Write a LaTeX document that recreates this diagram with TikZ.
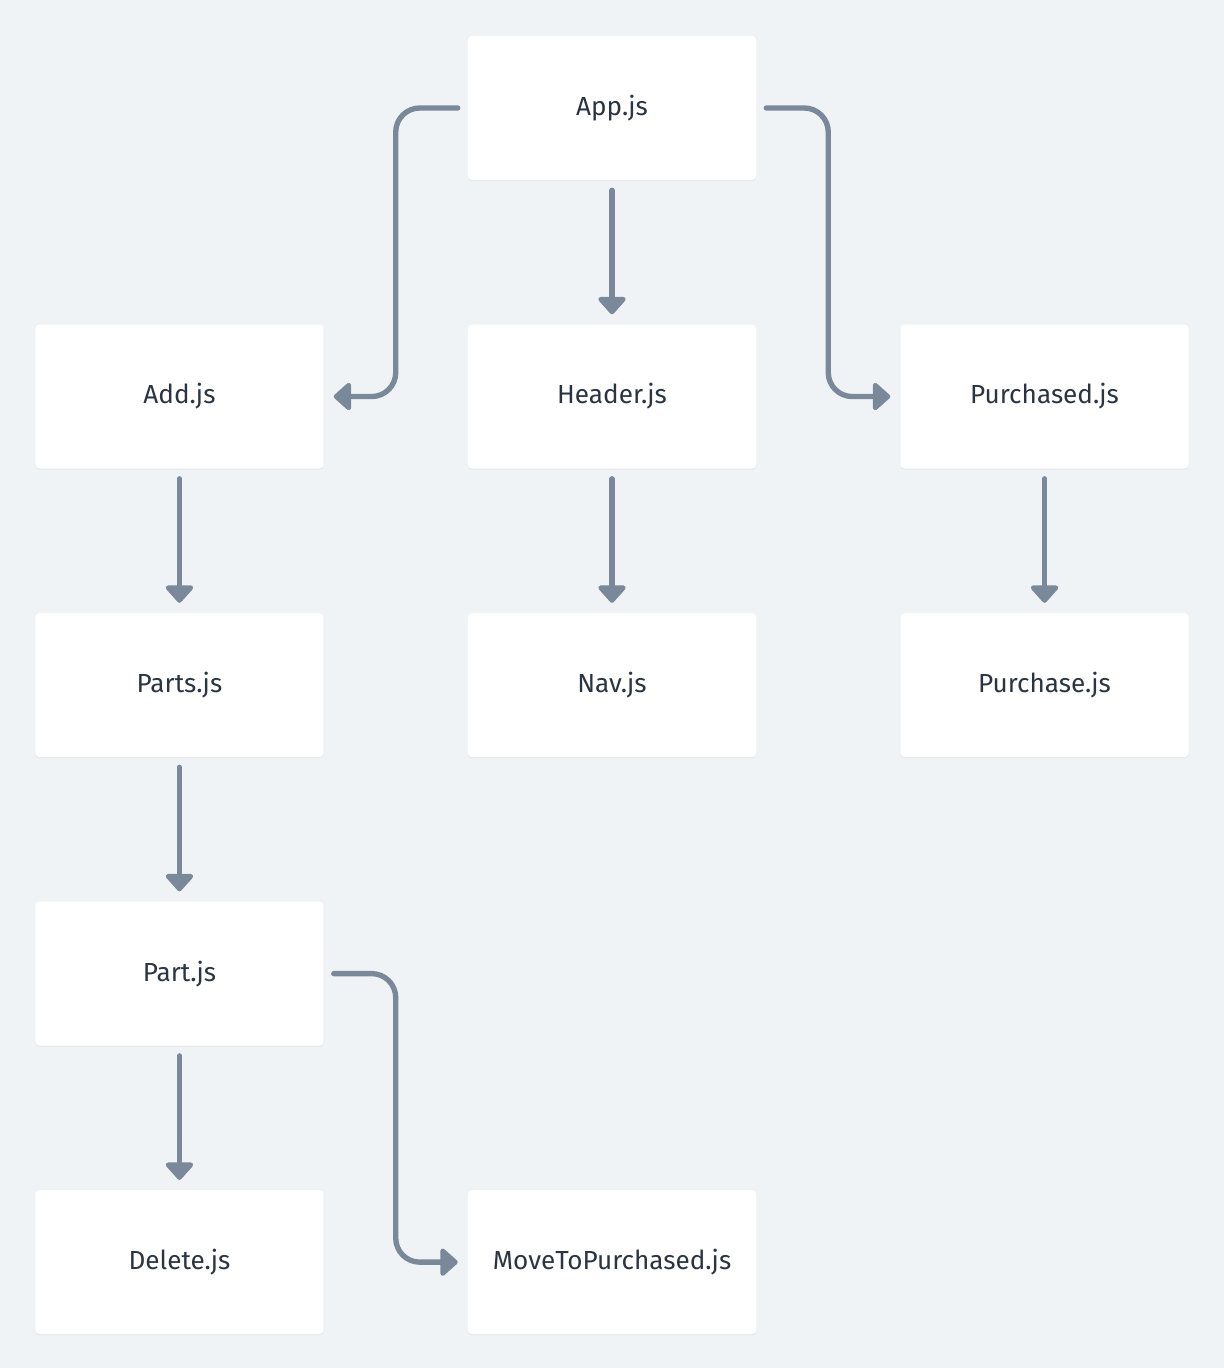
\documentclass[tikz,border=0pt]{standalone}
\usepackage{fontspec}
\setmainfont{Fira Sans}
\usetikzlibrary{positioning, arrows.meta, shadows}
\definecolor{pagebg}{HTML}{F0F3F6}
\definecolor{linkgrey}{HTML}{7A8999}
\definecolor{labelink}{HTML}{2B3542}
\tikzset{
    file/.style={shape=rectangle,fill=white,rounded corners=3pt,minimum width=216pt,minimum height=108pt,inner sep=0pt,
      text=labelink,font=\fontsize{19.6}{23}\selectfont,
      drop shadow={shadow xshift=0pt,shadow yshift=-1pt,opacity=0.08}},
    link/.style={draw=linkgrey,line width=4pt,line cap=round,line join=round,
      -{Triangle[width=24pt,length=14pt,round]},shorten <=7.5pt,shorten >=7.5pt},
  }
\begin{document}
\begin{tikzpicture}[x=0.75pt,y=0.75pt,node distance=108pt]
    \fill[pagebg] (0,0) rectangle (1224,-1368);
    \useasboundingbox (0,0) rectangle (1224,-1368);
    % create the nodes
    \node[file] (app) at (612,-108) {App.js};
    \node[file] (header)[below =of app] {Header.js};
    \node[file] (add)[left =of header] {Add.js};
    \node[file] (purchased)[right =of header] {Purchased.js};
    \node[file] (nav)[below =of header] {Nav.js};
    \node[file] (parts)[below =of add] {Parts.js};
    \node[file] (purchase)[below =of purchased] {Purchase.js};
    \node[file] (part)[below =of parts] {Part.js};
    \node[file] (delete)[below =of part] {Delete.js};
    \node[file] (move)[right =of delete] {MoveToPurchased.js};
    % straight links
    \draw[link] (app) -- (header);
    \draw[link] (header) -- (nav);
    \draw[link] (add) -- (parts);
    \draw[link] (parts) -- (part);
    \draw[link] (part) -- (delete);
    \draw[link] (purchased) -- (purchase);
    % elbow links
    \draw[link,rounded corners=18pt] (app.west) -- ++(-72,0) |- (add.east);
    \draw[link,rounded corners=18pt] (app.east) -- ++(72,0) |- (purchased.west);
    \draw[link,rounded corners=18pt] (part.east) -- ++(72,0) |- (move.west);
\end{tikzpicture}
\end{document}
